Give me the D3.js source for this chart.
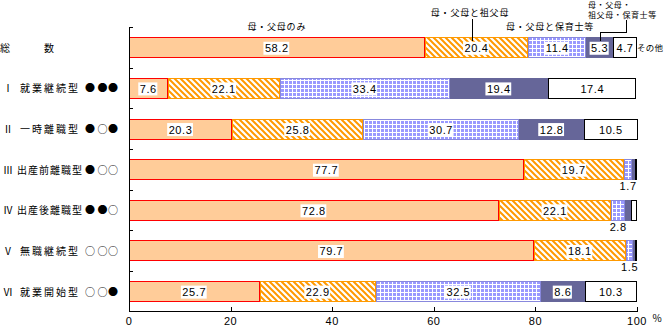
<!DOCTYPE html>
<html><head><meta charset="utf-8">
<script src="https://cdn.jsdelivr.net/npm/d3@7"></script>
<style>
html,body{margin:0;padding:0;background:#fff;}
svg{display:block;}
text{font-family:"Noto Sans CJK JP","Noto Sans",sans-serif;fill:#000;}
.num{font-family:"Liberation Sans",Arial,sans-serif;}
</style></head>
<body><svg id="c" width="665" height="326"></svg>
<script>
const numerals = ["", "Ⅰ", "Ⅱ", "Ⅲ", "Ⅳ", "Ⅴ", "Ⅵ"];
const names = ["総　　数", "就業継続型", "一時離職型", "出産前離職型", "出産後離職型", "無職継続型", "就業開始型"];
const markers = ["", "●●●", "●○●", "●○○", "●●○", "○○○", "○○●"];
const seriesNames = ["母・父母のみ", "母・父母と祖父母", "母・父母と保育士等", "母・父母・祖父母・保育士等", "その他"];
const onlyParents = [58.2, 7.6, 20.3, 77.7, 72.8, 79.7, 25.7];
const withGrand = [20.4, 22.1, 25.8, 19.7, 22.1, 18.1, 22.9];
const withNursery = [11.4, 33.4, 30.7, 1.7, 2.8, 1.5, 32.5];
const withBoth = [5.3, 19.4, 12.8, 0.5, 1.2, 0.4, 8.6];
const other = [4.7, 17.4, 10.5, 0.4, 1.1, 0.3, 10.3];
const xTicks = [0, 20, 40, 60, 80, 100];

const series = [onlyParents, withGrand, withNursery, withBoth, other];
const svg = d3.select("#c");
const x = d3.scaleLinear().domain([0, 100]).range([129, 637]);
const cats = d3.range(names.length);
const y = d3.scaleBand().domain(cats).range([27, 311.5]).padding(0);
const step = y.step();
const barOff = step * 0.253, barH = step * 0.516;

const defs = svg.append("defs");
const hatch = defs.append("pattern").attr("id", "hatch").attr("patternUnits", "userSpaceOnUse")
  .attr("width", 6).attr("height", 6);
hatch.append("rect").attr("width", 6).attr("height", 6).attr("fill", "#fff");
hatch.append("path").attr("d", "M-1,-1 L7,7 M-4,2 L2,8 M4,-2 L8,2")
  .attr("stroke", "#FF9900").attr("stroke-width", 2);
const grid = defs.append("pattern").attr("id", "grid").attr("patternUnits", "userSpaceOnUse")
  .attr("width", 4).attr("height", 4);
grid.append("rect").attr("width", 4).attr("height", 4).attr("fill", "#9999FF");
grid.append("path").attr("d", "M0,0.5 H4 M0.5,0 V4").attr("stroke", "#fff").attr("stroke-width", 1);

const fills = ["#FFCC99", "url(#hatch)", "url(#grid)", "#666699", "#FFFFFF"];
const strokes = ["#FF0000", "#FF9900", "#8888DD", "#666699", "#000000"];

const stackRows = cats.map(i => {
  let acc = 0;
  return series.map((s, k) => { const v = s[i]; const r = {i, k, v, x0: acc, x1: acc + v}; acc += v; return r; });
});

const gBars = svg.append("g").attr("shape-rendering", "crispEdges");
stackRows.forEach(row => {
  gBars.selectAll(null).data(row).enter().append("rect")
    .attr("x", d => x(d.x0) + 0.5)
    .attr("y", d => Math.round(y(d.i) + barOff) + 0.5)
    .attr("width", d => Math.max(0, x(d.x1) - x(d.x0) - 1))
    .attr("height", Math.round(barH) - 1)
    .attr("fill", d => fills[d.k])
    .attr("stroke", d => strokes[d.k])
    .attr("stroke-width", 1);
});

const axisG = svg.append("g").attr("shape-rendering", "crispEdges");
axisG.append("line").attr("x1", 129.5).attr("x2", 129.5).attr("y1", 27).attr("y2", 311.5).attr("stroke", "#000");
axisG.append("line").attr("x1", 129).attr("x2", 637.5).attr("y1", 311.5).attr("y2", 311.5).attr("stroke", "#000");
cats.forEach(i => {
  const yy = Math.round(y(i)) + 0.5;
  axisG.append("line").attr("x1", 129).attr("x2", 133).attr("y1", yy).attr("y2", yy).attr("stroke", "#000");
});
xTicks.forEach(t => {
  const xx = Math.round(x(t)) + 0.5;
  axisG.append("line").attr("x1", xx).attr("x2", xx).attr("y1", 307).attr("y2", 311.5).attr("stroke", "#000");
  svg.append("text").attr("class", "num").attr("x", x(t)).attr("y", 325)
    .attr("text-anchor", "middle").attr("font-size", 11).attr("letter-spacing", 0.5).text(t);
});
svg.append("text").attr("x", 657).attr("y", 322).attr("text-anchor", "middle").attr("font-size", 10).text("%");

const gLab = svg.append("g");
stackRows.forEach(row => row.forEach(d => {
  const cx = x((d.x0 + d.x1) / 2);
  const cy = y(d.i) + barOff + barH / 2;
  if (d.v >= 4) {
    const t = gLab.append("text").attr("class", "num").attr("x", cx).attr("y", cy + 4.5)
      .attr("text-anchor", "middle").attr("font-size", 11).attr("letter-spacing", 0.6).text(d.v.toFixed(1));
    const w = t.node().getComputedTextLength();
    gLab.insert("rect", () => t.node()).attr("x", cx - w / 2 - 1.5).attr("y", cy - 6).attr("width", w + 2)
      .attr("height", 13).attr("fill", "#fff");
  } else if (d.k === 2) {
    gLab.append("text").attr("class", "num").attr("x", cx).attr("y", y(d.i) + barOff + barH + 10)
      .attr("text-anchor", "middle").attr("font-size", 11).attr("letter-spacing", 0.6).text(d.v.toFixed(1));
  }
}));

cats.forEach(i => {
  const cy = y(i) + barOff + barH / 2 + 4;
  if (i === 0) {
    svg.append("text").attr("x", 0).attr("y", cy).attr("font-size", 10).text("総");
    svg.append("text").attr("x", 44).attr("y", cy).attr("font-size", 10).text("数");
    return;
  }
  svg.append("text").attr("x", 3).attr("y", cy).attr("font-size", 10).text(numerals[i]);
  const nm = names[i];
  svg.append("text").attr("x", nm.length > 5 ? 17 : 20).attr("y", cy).attr("font-size", 10)
    .attr("letter-spacing", nm.length > 5 ? 1 : 2).text(nm);
  const mk = markers[i].split("");
  const mx = [90, 102.5, 113];
  mk.forEach((m, j) => svg.append("text").attr("x", mx[j]).attr("y", cy).attr("text-anchor", "middle")
    .attr("font-size", 10).text(m));
});

const lg = svg.append("g");
const r0 = stackRows[0];
lg.append("text").attr("x", x((r0[0].x0 + r0[0].x1) / 2)).attr("y", 30).attr("text-anchor", "middle")
  .attr("font-size", 9).attr("letter-spacing", 0.8).text(seriesNames[0]);
lg.append("text").attr("x", 470).attr("y", 16).attr("text-anchor", "middle")
  .attr("font-size", 9).attr("letter-spacing", 0.8).text(seriesNames[1]);
lg.append("text").attr("x", 550).attr("y", 30).attr("text-anchor", "middle")
  .attr("font-size", 9).attr("letter-spacing", 0.8).text(seriesNames[2]);
lg.append("text").attr("x", 588).attr("y", 8).attr("font-size", 8).attr("letter-spacing", 0.6).text("母・父母・");
lg.append("text").attr("x", 588).attr("y", 17.5).attr("font-size", 8).attr("letter-spacing", 0.6).text("祖父母・保育士等");
lg.append("text").attr("x", 637).attr("y", 51).attr("font-size", 8.5).attr("letter-spacing", 0.2).text(seriesNames[4]);
const lines = svg.append("g").attr("shape-rendering", "crispEdges").attr("stroke", "#000").attr("fill", "none");
const l1x = Math.round(x((r0[1].x0 + r0[1].x1) / 2) - 4) + 0.5;
lines.append("path").attr("d", `M${l1x},19 V41`);
const l2x = Math.round(x((r0[3].x0 + r0[3].x1) / 2)) + 0.5;
lines.append("path").attr("d", `M626.5,20 V32.5 H${l2x} V41`);
</script></body></html>
